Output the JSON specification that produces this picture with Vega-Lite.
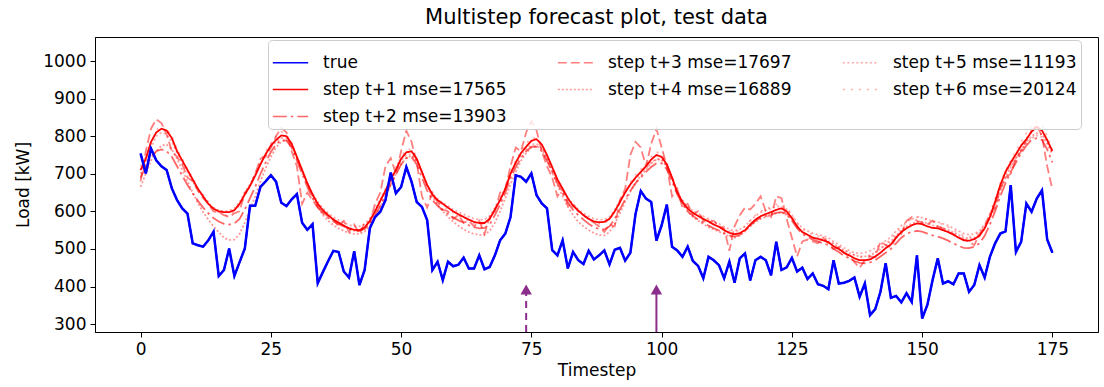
{
  "$schema": "https://vega.github.io/schema/vega-lite/v6.json",
  "width": 1003,
  "height": 295,
  "autosize": {"type": "none"},
  "padding": {"left": 95, "top": 37, "right": 6, "bottom": 55},
  "background": "white",
  "title": {"text": "Multistep forecast plot, test data", "fontSize": 21, "font": "DejaVu Sans", "fontWeight": "normal", "color": "black", "offset": 9},
  "config": {
    "view": {"stroke": "black", "strokeWidth": 1},
    "axis": {"grid": false, "domainColor": "black", "tickColor": "black", "tickSize": 5, "labelFont": "DejaVu Sans", "labelFontSize": 17, "labelColor": "black", "titleFont": "DejaVu Sans", "titleFontSize": 17, "titleFontWeight": "normal", "titleColor": "black", "labelPadding": 4},
    "legend": {"labelFont": "DejaVu Sans", "labelFontSize": 17, "labelColor": "black"}
  },
  "datasets": {
    "forecast": [
{"t":0,"a_true":754,"d_t1":710,"g_t2":690,"b_t3":680,"e_t4":665,"c_t5":700,"f_t6":720},
{"t":1,"a_true":701,"d_t1":740,"g_t2":720,"b_t3":760,"e_t4":700,"c_t5":730,"f_t6":745},
{"t":2,"a_true":767,"d_t1":785,"g_t2":745,"b_t3":820,"e_t4":735,"c_t5":770,"f_t6":780},
{"t":3,"a_true":736,"d_t1":810,"g_t2":760,"b_t3":845,"e_t4":760,"c_t5":800,"f_t6":815},
{"t":4,"a_true":720,"d_t1":820,"g_t2":765,"b_t3":835,"e_t4":775,"c_t5":810,"f_t6":830},
{"t":5,"a_true":710,"d_t1":815,"g_t2":760,"b_t3":805,"e_t4":778,"c_t5":805,"f_t6":820},
{"t":6,"a_true":661,"d_t1":795,"g_t2":745,"b_t3":760,"e_t4":765,"c_t5":785,"f_t6":800},
{"t":7,"a_true":630,"d_t1":760,"g_t2":720,"b_t3":745,"e_t4":740,"c_t5":755,"f_t6":765},
{"t":8,"a_true":608,"d_t1":735,"g_t2":695,"b_t3":725,"e_t4":710,"c_t5":728,"f_t6":740},
{"t":9,"a_true":594,"d_t1":710,"g_t2":670,"b_t3":690,"e_t4":680,"c_t5":705,"f_t6":712},
{"t":10,"a_true":515,"d_t1":685,"g_t2":648,"b_t3":680,"e_t4":650,"c_t5":680,"f_t6":690},
{"t":11,"a_true":510,"d_t1":660,"g_t2":628,"b_t3":655,"e_t4":622,"c_t5":657,"f_t6":662},
{"t":12,"a_true":506,"d_t1":640,"g_t2":610,"b_t3":635,"e_t4":598,"c_t5":640,"f_t6":645},
{"t":13,"a_true":523,"d_t1":620,"g_t2":595,"b_t3":620,"e_t4":578,"c_t5":622,"f_t6":625},
{"t":14,"a_true":546,"d_t1":607,"g_t2":582,"b_t3":600,"e_t4":560,"c_t5":610,"f_t6":605},
{"t":15,"a_true":428,"d_t1":600,"g_t2":573,"b_t3":598,"e_t4":545,"c_t5":603,"f_t6":598},
{"t":16,"a_true":444,"d_t1":598,"g_t2":567,"b_t3":590,"e_t4":530,"c_t5":600,"f_t6":590},
{"t":17,"a_true":501,"d_t1":598,"g_t2":565,"b_t3":585,"e_t4":524,"c_t5":602,"f_t6":588},
{"t":18,"a_true":428,"d_t1":603,"g_t2":568,"b_t3":595,"e_t4":525,"c_t5":608,"f_t6":600},
{"t":19,"a_true":465,"d_t1":620,"g_t2":580,"b_t3":600,"e_t4":540,"c_t5":625,"f_t6":615},
{"t":20,"a_true":501,"d_t1":645,"g_t2":605,"b_t3":650,"e_t4":570,"c_t5":650,"f_t6":640},
{"t":21,"a_true":615,"d_t1":668,"g_t2":635,"b_t3":665,"e_t4":605,"c_t5":672,"f_t6":670},
{"t":22,"a_true":615,"d_t1":695,"g_t2":665,"b_t3":700,"e_t4":640,"c_t5":700,"f_t6":700},
{"t":23,"a_true":665,"d_t1":725,"g_t2":700,"b_t3":740,"e_t4":680,"c_t5":728,"f_t6":735},
{"t":24,"a_true":680,"d_t1":752,"g_t2":730,"b_t3":745,"e_t4":715,"c_t5":752,"f_t6":760},
{"t":25,"a_true":696,"d_t1":775,"g_t2":758,"b_t3":770,"e_t4":745,"c_t5":772,"f_t6":780},
{"t":26,"a_true":679,"d_t1":790,"g_t2":778,"b_t3":800,"e_t4":770,"c_t5":785,"f_t6":800},
{"t":27,"a_true":623,"d_t1":802,"g_t2":790,"b_t3":822,"e_t4":785,"c_t5":795,"f_t6":812},
{"t":28,"a_true":614,"d_t1":800,"g_t2":788,"b_t3":810,"e_t4":790,"c_t5":795,"f_t6":805},
{"t":29,"a_true":632,"d_t1":780,"g_t2":770,"b_t3":760,"e_t4":775,"c_t5":775,"f_t6":780},
{"t":30,"a_true":646,"d_t1":745,"g_t2":735,"b_t3":720,"e_t4":745,"c_t5":742,"f_t6":738},
{"t":31,"a_true":570,"d_t1":710,"g_t2":700,"b_t3":620,"e_t4":710,"c_t5":708,"f_t6":700},
{"t":32,"a_true":551,"d_t1":675,"g_t2":665,"b_t3":650,"e_t4":675,"c_t5":675,"f_t6":668},
{"t":33,"a_true":566,"d_t1":645,"g_t2":635,"b_t3":630,"e_t4":640,"c_t5":648,"f_t6":640},
{"t":34,"a_true":409,"d_t1":620,"g_t2":612,"b_t3":610,"e_t4":612,"c_t5":625,"f_t6":618},
{"t":35,"a_true":439,"d_t1":603,"g_t2":595,"b_t3":600,"e_t4":590,"c_t5":608,"f_t6":600},
{"t":36,"a_true":468,"d_t1":590,"g_t2":583,"b_t3":585,"e_t4":575,"c_t5":596,"f_t6":588},
{"t":37,"a_true":495,"d_t1":578,"g_t2":573,"b_t3":580,"e_t4":563,"c_t5":585,"f_t6":575},
{"t":38,"a_true":492,"d_t1":570,"g_t2":566,"b_t3":560,"e_t4":555,"c_t5":577,"f_t6":568},
{"t":39,"a_true":440,"d_t1":562,"g_t2":560,"b_t3":575,"e_t4":548,"c_t5":570,"f_t6":560},
{"t":40,"a_true":424,"d_t1":555,"g_t2":554,"b_t3":545,"e_t4":543,"c_t5":564,"f_t6":553},
{"t":41,"a_true":494,"d_t1":551,"g_t2":550,"b_t3":565,"e_t4":540,"c_t5":560,"f_t6":548},
{"t":42,"a_true":404,"d_t1":550,"g_t2":548,"b_t3":540,"e_t4":540,"c_t5":560,"f_t6":547},
{"t":43,"a_true":444,"d_t1":557,"g_t2":553,"b_t3":570,"e_t4":546,"c_t5":566,"f_t6":555},
{"t":44,"a_true":555,"d_t1":575,"g_t2":568,"b_t3":570,"e_t4":562,"c_t5":582,"f_t6":575},
{"t":45,"a_true":585,"d_t1":600,"g_t2":590,"b_t3":620,"e_t4":585,"c_t5":605,"f_t6":598},
{"t":46,"a_true":599,"d_t1":628,"g_t2":615,"b_t3":650,"e_t4":612,"c_t5":632,"f_t6":625},
{"t":47,"a_true":630,"d_t1":655,"g_t2":645,"b_t3":720,"e_t4":640,"c_t5":658,"f_t6":660},
{"t":48,"a_true":703,"d_t1":685,"g_t2":672,"b_t3":742,"e_t4":670,"c_t5":686,"f_t6":692},
{"t":49,"a_true":648,"d_t1":710,"g_t2":698,"b_t3":700,"e_t4":700,"c_t5":710,"f_t6":718},
{"t":50,"a_true":665,"d_t1":740,"g_t2":725,"b_t3":760,"e_t4":725,"c_t5":735,"f_t6":745},
{"t":51,"a_true":718,"d_t1":757,"g_t2":742,"b_t3":815,"e_t4":742,"c_t5":750,"f_t6":765},
{"t":52,"a_true":679,"d_t1":760,"g_t2":745,"b_t3":785,"e_t4":748,"c_t5":752,"f_t6":765},
{"t":53,"a_true":625,"d_t1":740,"g_t2":725,"b_t3":730,"e_t4":735,"c_t5":735,"f_t6":740},
{"t":54,"a_true":612,"d_t1":705,"g_t2":690,"b_t3":640,"e_t4":705,"c_t5":702,"f_t6":700},
{"t":55,"a_true":577,"d_t1":670,"g_t2":655,"b_t3":610,"e_t4":670,"c_t5":670,"f_t6":665},
{"t":56,"a_true":444,"d_t1":645,"g_t2":630,"b_t3":650,"e_t4":640,"c_t5":647,"f_t6":640},
{"t":57,"a_true":466,"d_t1":630,"g_t2":615,"b_t3":625,"e_t4":618,"c_t5":633,"f_t6":625},
{"t":58,"a_true":417,"d_t1":620,"g_t2":603,"b_t3":605,"e_t4":600,"c_t5":623,"f_t6":615},
{"t":59,"a_true":466,"d_t1":610,"g_t2":593,"b_t3":600,"e_t4":585,"c_t5":614,"f_t6":605},
{"t":60,"a_true":454,"d_t1":600,"g_t2":584,"b_t3":580,"e_t4":572,"c_t5":605,"f_t6":596},
{"t":61,"a_true":458,"d_t1":592,"g_t2":576,"b_t3":590,"e_t4":562,"c_t5":598,"f_t6":588},
{"t":62,"a_true":477,"d_t1":585,"g_t2":570,"b_t3":570,"e_t4":552,"c_t5":592,"f_t6":582},
{"t":63,"a_true":448,"d_t1":578,"g_t2":563,"b_t3":575,"e_t4":545,"c_t5":586,"f_t6":575},
{"t":64,"a_true":448,"d_t1":572,"g_t2":558,"b_t3":560,"e_t4":540,"c_t5":580,"f_t6":568},
{"t":65,"a_true":483,"d_t1":569,"g_t2":555,"b_t3":575,"e_t4":537,"c_t5":578,"f_t6":565},
{"t":66,"a_true":446,"d_t1":569,"g_t2":556,"b_t3":540,"e_t4":538,"c_t5":578,"f_t6":567},
{"t":67,"a_true":452,"d_t1":580,"g_t2":565,"b_t3":585,"e_t4":548,"c_t5":588,"f_t6":578},
{"t":68,"a_true":483,"d_t1":605,"g_t2":590,"b_t3":600,"e_t4":570,"c_t5":610,"f_t6":602},
{"t":69,"a_true":523,"d_t1":630,"g_t2":618,"b_t3":650,"e_t4":600,"c_t5":635,"f_t6":628},
{"t":70,"a_true":541,"d_t1":660,"g_t2":650,"b_t3":660,"e_t4":635,"c_t5":662,"f_t6":660},
{"t":71,"a_true":585,"d_t1":700,"g_t2":688,"b_t3":720,"e_t4":672,"c_t5":698,"f_t6":702},
{"t":72,"a_true":696,"d_t1":730,"g_t2":718,"b_t3":770,"e_t4":705,"c_t5":726,"f_t6":735},
{"t":73,"a_true":692,"d_t1":755,"g_t2":742,"b_t3":760,"e_t4":735,"c_t5":750,"f_t6":760},
{"t":74,"a_true":679,"d_t1":772,"g_t2":760,"b_t3":810,"e_t4":755,"c_t5":765,"f_t6":780},
{"t":75,"a_true":701,"d_t1":788,"g_t2":772,"b_t3":840,"e_t4":770,"c_t5":778,"f_t6":795},
{"t":76,"a_true":643,"d_t1":792,"g_t2":772,"b_t3":815,"e_t4":775,"c_t5":780,"f_t6":795},
{"t":77,"a_true":621,"d_t1":778,"g_t2":760,"b_t3":760,"e_t4":765,"c_t5":768,"f_t6":775},
{"t":78,"a_true":608,"d_t1":750,"g_t2":735,"b_t3":720,"e_t4":740,"c_t5":742,"f_t6":745},
{"t":79,"a_true":497,"d_t1":718,"g_t2":705,"b_t3":690,"e_t4":705,"c_t5":712,"f_t6":712},
{"t":80,"a_true":483,"d_t1":685,"g_t2":675,"b_t3":640,"e_t4":670,"c_t5":682,"f_t6":680},
{"t":81,"a_true":523,"d_t1":660,"g_t2":648,"b_t3":660,"e_t4":640,"c_t5":658,"f_t6":655},
{"t":82,"a_true":448,"d_t1":635,"g_t2":624,"b_t3":615,"e_t4":612,"c_t5":636,"f_t6":630},
{"t":83,"a_true":492,"d_t1":615,"g_t2":604,"b_t3":620,"e_t4":590,"c_t5":618,"f_t6":612},
{"t":84,"a_true":470,"d_t1":602,"g_t2":590,"b_t3":600,"e_t4":572,"c_t5":605,"f_t6":600},
{"t":85,"a_true":460,"d_t1":590,"g_t2":578,"b_t3":590,"e_t4":560,"c_t5":595,"f_t6":588},
{"t":86,"a_true":495,"d_t1":580,"g_t2":567,"b_t3":580,"e_t4":550,"c_t5":587,"f_t6":578},
{"t":87,"a_true":472,"d_t1":573,"g_t2":558,"b_t3":570,"e_t4":542,"c_t5":580,"f_t6":570},
{"t":88,"a_true":483,"d_t1":571,"g_t2":553,"b_t3":560,"e_t4":537,"c_t5":578,"f_t6":567},
{"t":89,"a_true":496,"d_t1":572,"g_t2":552,"b_t3":545,"e_t4":536,"c_t5":578,"f_t6":568},
{"t":90,"a_true":459,"d_t1":580,"g_t2":560,"b_t3":565,"e_t4":545,"c_t5":586,"f_t6":578},
{"t":91,"a_true":498,"d_t1":600,"g_t2":580,"b_t3":560,"e_t4":567,"c_t5":604,"f_t6":598},
{"t":92,"a_true":503,"d_t1":625,"g_t2":605,"b_t3":630,"e_t4":595,"c_t5":628,"f_t6":625},
{"t":93,"a_true":469,"d_t1":650,"g_t2":632,"b_t3":660,"e_t4":625,"c_t5":652,"f_t6":652},
{"t":94,"a_true":490,"d_t1":672,"g_t2":655,"b_t3":750,"e_t4":652,"c_t5":672,"f_t6":678},
{"t":95,"a_true":594,"d_t1":690,"g_t2":675,"b_t3":785,"e_t4":675,"c_t5":688,"f_t6":697},
{"t":96,"a_true":654,"d_t1":705,"g_t2":690,"b_t3":770,"e_t4":695,"c_t5":702,"f_t6":712},
{"t":97,"a_true":634,"d_t1":720,"g_t2":705,"b_t3":720,"e_t4":712,"c_t5":715,"f_t6":727},
{"t":98,"a_true":625,"d_t1":738,"g_t2":718,"b_t3":780,"e_t4":728,"c_t5":730,"f_t6":745},
{"t":99,"a_true":522,"d_t1":750,"g_t2":728,"b_t3":820,"e_t4":738,"c_t5":740,"f_t6":758},
{"t":100,"a_true":563,"d_t1":745,"g_t2":728,"b_t3":770,"e_t4":738,"c_t5":737,"f_t6":752},
{"t":101,"a_true":618,"d_t1":725,"g_t2":712,"b_t3":720,"e_t4":722,"c_t5":718,"f_t6":728},
{"t":102,"a_true":506,"d_t1":690,"g_t2":680,"b_t3":640,"e_t4":690,"c_t5":688,"f_t6":692},
{"t":103,"a_true":496,"d_t1":650,"g_t2":645,"b_t3":660,"e_t4":652,"c_t5":652,"f_t6":655},
{"t":104,"a_true":479,"d_t1":625,"g_t2":620,"b_t3":610,"e_t4":622,"c_t5":628,"f_t6":630},
{"t":105,"a_true":506,"d_t1":607,"g_t2":600,"b_t3":620,"e_t4":600,"c_t5":612,"f_t6":612},
{"t":106,"a_true":468,"d_t1":596,"g_t2":588,"b_t3":590,"e_t4":585,"c_t5":602,"f_t6":600},
{"t":107,"a_true":455,"d_t1":588,"g_t2":578,"b_t3":600,"e_t4":575,"c_t5":594,"f_t6":592},
{"t":108,"a_true":422,"d_t1":580,"g_t2":570,"b_t3":575,"e_t4":566,"c_t5":587,"f_t6":585},
{"t":109,"a_true":479,"d_t1":573,"g_t2":562,"b_t3":570,"e_t4":558,"c_t5":580,"f_t6":578},
{"t":110,"a_true":470,"d_t1":565,"g_t2":555,"b_t3":575,"e_t4":552,"c_t5":573,"f_t6":570},
{"t":111,"a_true":457,"d_t1":559,"g_t2":549,"b_t3":560,"e_t4":546,"c_t5":567,"f_t6":563},
{"t":112,"a_true":422,"d_t1":550,"g_t2":542,"b_t3":555,"e_t4":540,"c_t5":559,"f_t6":555},
{"t":113,"a_true":466,"d_t1":543,"g_t2":536,"b_t3":495,"e_t4":533,"c_t5":552,"f_t6":548},
{"t":114,"a_true":410,"d_t1":539,"g_t2":533,"b_t3":560,"e_t4":530,"c_t5":548,"f_t6":545},
{"t":115,"a_true":475,"d_t1":542,"g_t2":537,"b_t3":590,"e_t4":535,"c_t5":552,"f_t6":550},
{"t":116,"a_true":488,"d_t1":550,"g_t2":548,"b_t3":610,"e_t4":546,"c_t5":560,"f_t6":560},
{"t":117,"a_true":416,"d_t1":565,"g_t2":562,"b_t3":605,"e_t4":560,"c_t5":575,"f_t6":576},
{"t":118,"a_true":470,"d_t1":578,"g_t2":575,"b_t3":620,"e_t4":572,"c_t5":588,"f_t6":590},
{"t":119,"a_true":479,"d_t1":587,"g_t2":583,"b_t3":640,"e_t4":580,"c_t5":597,"f_t6":600},
{"t":120,"a_true":470,"d_t1":593,"g_t2":588,"b_t3":600,"e_t4":585,"c_t5":603,"f_t6":606},
{"t":121,"a_true":430,"d_t1":598,"g_t2":592,"b_t3":585,"e_t4":590,"c_t5":608,"f_t6":612},
{"t":122,"a_true":519,"d_t1":604,"g_t2":596,"b_t3":640,"e_t4":595,"c_t5":612,"f_t6":618},
{"t":123,"a_true":444,"d_t1":608,"g_t2":598,"b_t3":635,"e_t4":598,"c_t5":614,"f_t6":620},
{"t":124,"a_true":451,"d_t1":600,"g_t2":592,"b_t3":580,"e_t4":593,"c_t5":606,"f_t6":610},
{"t":125,"a_true":476,"d_t1":582,"g_t2":575,"b_t3":530,"e_t4":578,"c_t5":590,"f_t6":590},
{"t":126,"a_true":440,"d_t1":560,"g_t2":555,"b_t3":480,"e_t4":560,"c_t5":570,"f_t6":568},
{"t":127,"a_true":450,"d_t1":545,"g_t2":540,"b_t3":520,"e_t4":545,"c_t5":556,"f_t6":553},
{"t":128,"a_true":420,"d_t1":538,"g_t2":532,"b_t3":525,"e_t4":537,"c_t5":548,"f_t6":545},
{"t":129,"a_true":435,"d_t1":530,"g_t2":525,"b_t3":520,"e_t4":530,"c_t5":542,"f_t6":538},
{"t":130,"a_true":406,"d_t1":527,"g_t2":520,"b_t3":515,"e_t4":528,"c_t5":538,"f_t6":534},
{"t":131,"a_true":402,"d_t1":523,"g_t2":515,"b_t3":530,"e_t4":525,"c_t5":535,"f_t6":530},
{"t":132,"a_true":393,"d_t1":518,"g_t2":510,"b_t3":515,"e_t4":520,"c_t5":530,"f_t6":525},
{"t":133,"a_true":470,"d_t1":507,"g_t2":500,"b_t3":500,"e_t4":512,"c_t5":520,"f_t6":515},
{"t":134,"a_true":408,"d_t1":500,"g_t2":492,"b_t3":505,"e_t4":505,"c_t5":512,"f_t6":507},
{"t":135,"a_true":410,"d_t1":490,"g_t2":482,"b_t3":490,"e_t4":497,"c_t5":503,"f_t6":498},
{"t":136,"a_true":415,"d_t1":483,"g_t2":475,"b_t3":480,"e_t4":490,"c_t5":496,"f_t6":490},
{"t":137,"a_true":424,"d_t1":475,"g_t2":468,"b_t3":465,"e_t4":484,"c_t5":490,"f_t6":483},
{"t":138,"a_true":373,"d_t1":470,"g_t2":463,"b_t3":450,"e_t4":480,"c_t5":488,"f_t6":478},
{"t":139,"a_true":408,"d_t1":470,"g_t2":462,"b_t3":470,"e_t4":480,"c_t5":490,"f_t6":478},
{"t":140,"a_true":324,"d_t1":472,"g_t2":464,"b_t3":480,"e_t4":483,"c_t5":495,"f_t6":482},
{"t":141,"a_true":340,"d_t1":480,"g_t2":470,"b_t3":478,"e_t4":490,"c_t5":502,"f_t6":490},
{"t":142,"a_true":386,"d_t1":490,"g_t2":480,"b_t3":520,"e_t4":500,"c_t5":512,"f_t6":502},
{"t":143,"a_true":462,"d_t1":502,"g_t2":490,"b_t3":510,"e_t4":510,"c_t5":522,"f_t6":514},
{"t":144,"a_true":370,"d_t1":512,"g_t2":500,"b_t3":505,"e_t4":520,"c_t5":532,"f_t6":525},
{"t":145,"a_true":375,"d_t1":530,"g_t2":515,"b_t3":530,"e_t4":535,"c_t5":548,"f_t6":542},
{"t":146,"a_true":358,"d_t1":545,"g_t2":530,"b_t3":540,"e_t4":550,"c_t5":562,"f_t6":558},
{"t":147,"a_true":382,"d_t1":555,"g_t2":540,"b_t3":575,"e_t4":560,"c_t5":572,"f_t6":570},
{"t":148,"a_true":359,"d_t1":563,"g_t2":546,"b_t3":585,"e_t4":568,"c_t5":580,"f_t6":580},
{"t":149,"a_true":483,"d_t1":568,"g_t2":548,"b_t3":575,"e_t4":572,"c_t5":584,"f_t6":586},
{"t":150,"a_true":315,"d_t1":566,"g_t2":546,"b_t3":570,"e_t4":572,"c_t5":583,"f_t6":584},
{"t":151,"a_true":351,"d_t1":560,"g_t2":541,"b_t3":565,"e_t4":568,"c_t5":578,"f_t6":578},
{"t":152,"a_true":417,"d_t1":556,"g_t2":536,"b_t3":575,"e_t4":563,"c_t5":574,"f_t6":574},
{"t":153,"a_true":475,"d_t1":555,"g_t2":533,"b_t3":560,"e_t4":560,"c_t5":572,"f_t6":570},
{"t":154,"a_true":408,"d_t1":550,"g_t2":528,"b_t3":555,"e_t4":556,"c_t5":567,"f_t6":565},
{"t":155,"a_true":414,"d_t1":545,"g_t2":522,"b_t3":545,"e_t4":550,"c_t5":562,"f_t6":558},
{"t":156,"a_true":406,"d_t1":538,"g_t2":515,"b_t3":540,"e_t4":544,"c_t5":555,"f_t6":550},
{"t":157,"a_true":435,"d_t1":530,"g_t2":508,"b_t3":530,"e_t4":537,"c_t5":548,"f_t6":542},
{"t":158,"a_true":435,"d_t1":523,"g_t2":503,"b_t3":525,"e_t4":530,"c_t5":541,"f_t6":535},
{"t":159,"a_true":386,"d_t1":522,"g_t2":502,"b_t3":520,"e_t4":528,"c_t5":538,"f_t6":532},
{"t":160,"a_true":404,"d_t1":526,"g_t2":506,"b_t3":510,"e_t4":530,"c_t5":540,"f_t6":535},
{"t":161,"a_true":457,"d_t1":535,"g_t2":515,"b_t3":540,"e_t4":538,"c_t5":548,"f_t6":545},
{"t":162,"a_true":424,"d_t1":555,"g_t2":535,"b_t3":560,"e_t4":555,"c_t5":565,"f_t6":565},
{"t":163,"a_true":479,"d_t1":585,"g_t2":565,"b_t3":590,"e_t4":580,"c_t5":592,"f_t6":595},
{"t":164,"a_true":515,"d_t1":625,"g_t2":600,"b_t3":610,"e_t4":615,"c_t5":628,"f_t6":632},
{"t":165,"a_true":541,"d_t1":670,"g_t2":640,"b_t3":660,"e_t4":655,"c_t5":668,"f_t6":675},
{"t":166,"a_true":547,"d_t1":705,"g_t2":675,"b_t3":690,"e_t4":690,"c_t5":700,"f_t6":708},
{"t":167,"a_true":670,"d_t1":730,"g_t2":705,"b_t3":700,"e_t4":718,"c_t5":722,"f_t6":735},
{"t":168,"a_true":492,"d_t1":752,"g_t2":730,"b_t3":740,"e_t4":742,"c_t5":742,"f_t6":760},
{"t":169,"a_true":519,"d_t1":775,"g_t2":755,"b_t3":760,"e_t4":765,"c_t5":762,"f_t6":785},
{"t":170,"a_true":621,"d_t1":792,"g_t2":775,"b_t3":790,"e_t4":785,"c_t5":780,"f_t6":808},
{"t":171,"a_true":599,"d_t1":812,"g_t2":790,"b_t3":815,"e_t4":800,"c_t5":795,"f_t6":828},
{"t":172,"a_true":634,"d_t1":825,"g_t2":795,"b_t3":830,"e_t4":808,"c_t5":802,"f_t6":838},
{"t":173,"a_true":656,"d_t1":815,"g_t2":790,"b_t3":800,"e_t4":805,"c_t5":798,"f_t6":828},
{"t":174,"a_true":525,"d_t1":790,"g_t2":765,"b_t3":720,"e_t4":785,"c_t5":780,"f_t6":800},
{"t":175,"a_true":490,"d_t1":760,"g_t2":730,"b_t3":658,"e_t4":755,"c_t5":750,"f_t6":765}
    ],
    "arrows": [{"t": 74, "kind": "dashed"}, {"t": 99, "kind": "solid"}]
  },
  "encoding": {
    "x": {"field": "t", "type": "quantitative", "scale": {"domain": [-8.75, 183.75], "nice": false, "zero": false}, "axis": {"values": [0, 25, 50, 75, 100, 125, 150, 175], "title": "Timestep", "titlePadding": 5}}
  },
  "layer": [
    {
      "data": {"name": "forecast"},
      "transform": [{"fold": ["a_true", "d_t1", "g_t2", "b_t3", "e_t4", "c_t5", "f_t6"], "as": ["series", "load"]}],
      "mark": {"type": "line", "interpolate": "linear", "strokeWidth": 1.8},
      "encoding": {
        "y": {"field": "load", "type": "quantitative", "scale": {"domain": [279, 1064], "nice": false, "zero": false}, "axis": {"values": [300, 400, 500, 600, 700, 800, 900, 1000], "format": "d", "title": "Load [kW]", "titlePadding": 10}},
        "color": {"field": "series", "type": "nominal",
          "scale": {"domain": ["a_true", "d_t1", "f_t6", "b_t3", "e_t4", "g_t2", "c_t5"], "range": ["#0000ff", "#ff0000", "rgba(255,0,0,0.3)", "rgba(255,0,0,0.5)", "rgba(255,0,0,0.4)", "rgba(255,0,0,0.6)", "rgba(255,0,0,0.35)"]},
          "legend": {"title": null, "orient": "none", "direction": "vertical", "legendX": 173, "legendY": 3, "columns": 3, "columnPadding": 47, "rowPadding": 0, "symbolType": "stroke", "symbolSize": 1250, "labelOffset": 14, "labelLimit": 400, "padding": 4, "strokeColor": "#cccccc", "fillColor": "rgba(255,255,255,0.8)", "cornerRadius": 4,
            "labelExpr": "datum.label == 'd_t1' ? 'step t+1 mse=17565' : datum.label == 'g_t2' ? 'step t+2 mse=13903' : datum.label == 'b_t3' ? 'step t+3 mse=17697' : datum.label == 'e_t4' ? 'step t+4 mse=16889' : datum.label == 'c_t5' ? 'step t+5 mse=11193' : datum.label == 'f_t6' ? 'step t+6 mse=20124' : 'true'"}},
        "strokeDash": {"field": "series", "type": "nominal", "scale": {"domain": ["a_true", "d_t1", "f_t6", "b_t3", "e_t4", "g_t2", "c_t5"], "range": [[1, 0], [1, 0], [2, 6], [9, 4], [2, 2], [14, 4, 2.5, 4], [2, 2.5]]}}
      }
    },
    {
      "data": {"name": "forecast"},
      "mark": {"type": "line", "interpolate": "linear", "strokeWidth": 2.5, "color": "#0000ff"},
      "encoding": {"y": {"field": "a_true", "type": "quantitative"}}
    },
    {
      "data": {"name": "arrows"},
      "transform": [{"filter": "datum.kind == 'dashed'"}],
      "mark": {"type": "rule", "color": "#8b2e8b", "strokeWidth": 2, "strokeDash": [7, 5]},
      "encoding": {"y": {"datum": 279, "type": "quantitative"}, "y2": {"datum": 380}}
    },
    {
      "data": {"name": "arrows"},
      "transform": [{"filter": "datum.kind == 'solid'"}],
      "mark": {"type": "rule", "color": "#8b2e8b", "strokeWidth": 2},
      "encoding": {"y": {"datum": 279, "type": "quantitative"}, "y2": {"datum": 380}}
    },
    {
      "data": {"name": "arrows"},
      "mark": {"type": "point", "shape": "triangle-up", "filled": true, "color": "#8b2e8b", "opacity": 1, "size": 130},
      "encoding": {"y": {"datum": 392, "type": "quantitative"}}
    }
  ]
}
